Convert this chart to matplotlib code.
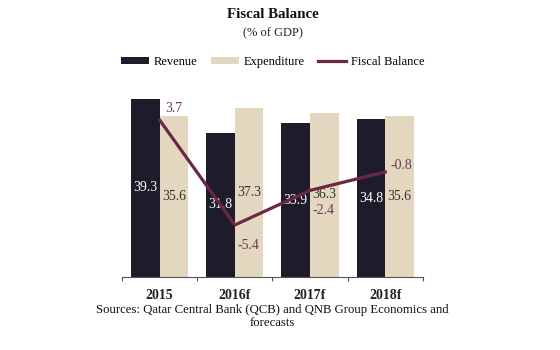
import matplotlib.pyplot as plt
import numpy as np

# data
years = ['2015', '2016f', '2017f', '2018f']
revenue = [39.3, 31.8, 33.9, 34.8]
expenditure = [35.6, 37.3, 36.3, 35.6]
balance = [3.7, -5.4, -2.4, -0.8]

rev_color = '#1e1b2b'
exp_color = '#e3d8bf'
bal_color = '#6e2646'
bal_text = '#6b3a58'

plt.rcParams['font.family'] = 'Liberation Serif'

fig = plt.figure(figsize=(5.6, 3.5), dpi=100)
ax = fig.add_axes([0.218, 0.209, 0.537, 0.517])

x = np.arange(len(years))
w = 0.38
b1 = ax.bar(x - w/2, revenue, w, color=rev_color, label='Revenue')
b2 = ax.bar(x + w/2, expenditure, w, color=exp_color, label='Expenditure')

for i in range(len(years)):
	ax.text(x[i] - w/2, revenue[i]/2, '%.1f' % revenue[i], color='white',
		ha='center', va='center', fontsize=10)
	ax.text(x[i] + w/2, expenditure[i]/2, '%.1f' % expenditure[i], color='#333333',
		ha='center', va='center', fontsize=10)

ax.set_xlim(-0.5, 3.5)
ax.set_ylim(0, 40)
ax.set_yticks([])
for s in ['top', 'right', 'left']:
	ax.spines[s].set_visible(False)
ax.spines['bottom'].set_color('#555555')
ax.set_xticks([-0.5, 0.5, 1.5, 2.5, 3.5])
ax.set_xticklabels([])
ax.tick_params(axis='x', length=3, color='#555555', direction='out')
for i, y in enumerate(years):
	ax.text(x[i], -2.6, y, ha='center', va='top', fontsize=10, color='#222222',
		fontweight='bold')

ax2 = ax.twinx()
ln, = ax2.plot(x, balance, color=bal_color, lw=2.3, label='Fiscal Balance')
ax2.set_ylim(-9.9, 5.8)
ax2.axis('off')
# label offsets in points (dx, dy)
offs = [(10, 8.5), (9.5, -15), (10, -14.5), (11.5, 5)]
for i in range(len(years)):
	ax2.annotate('%.1f' % balance[i], (x[i], balance[i]), xytext=offs[i],
		textcoords='offset points', ha='center', va='center',
		color=bal_text, fontsize=10)

fig.text(0.487, 0.96, 'Fiscal Balance', ha='center', va='center',
	fontsize=10.8, fontweight='bold', color='#111111')
fig.text(0.487, 0.906, '(% of GDP)', ha='center', va='center',
	fontsize=9, color='#222222')

fig.legend(handles=[b1, b2, ln], loc='center', bbox_to_anchor=(0.487, 0.823),
	ncol=3, frameon=False, fontsize=9, handlelength=2.2, handleheight=0.5,
	columnspacing=1.1, handletextpad=0.4)

fig.text(0.487, 0.114, 'Sources: Qatar Central Bank (QCB) and QNB Group Economics and',
	ha='center', va='center', fontsize=9.2, color='#111111')
fig.text(0.487, 0.077, 'forecasts', ha='center', va='center',
	fontsize=9.2, color='#111111')

fig.savefig('out.png', dpi=100)
